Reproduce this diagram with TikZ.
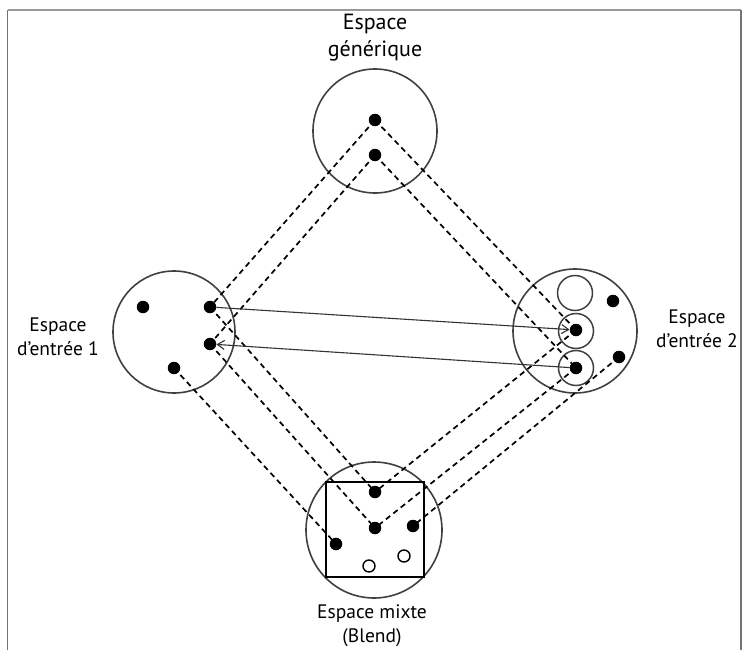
\documentclass[tikz,border=0pt]{standalone}
\usepackage{fontspec}
\setmainfont{PT Sans}
\usetikzlibrary{arrows.meta}
\begin{document}
\begin{tikzpicture}[x=1pt,y=-1pt,
  space/.style={draw=black!75,line width=1.6pt,circle,minimum size=#1,inner sep=0pt},
  dot/.style={fill=black,circle,minimum size=12.5pt,inner sep=0pt},
  hollow/.style={draw=black,line width=1.4pt,fill=white,circle,minimum size=12pt,inner sep=0pt},
  ring/.style={draw=black!75,line width=1.5pt,circle,minimum size=35pt,inner sep=0pt},
  proj/.style={dash pattern=on 5.5pt off 4pt,line width=1.7pt,black},
  link/.style={line width=1.1pt,black!80,-{Straight Barb[length=7pt,width=9pt,line width=1.1pt]}},
  lbl/.style={align=center,font=\fontsize{19.5}{24}\selectfont},
  frameline/.style={draw=black!55,line width=1.8pt}
]
\useasboundingbox (0,0) rectangle (743,650);
% frame
\coordinate (f1) at (7.5,650);
\coordinate (f2) at (7.5,10);
\coordinate (f3) at (741,10);
\coordinate (f4) at (741,650);
\draw[frameline] (f1) -- (f2);
\draw[draw=black!40,line width=1.2pt] (f2) -- (f3);
\draw[frameline] (f3) -- (f4);

% spaces
\node[space=124pt] (G) at (375,131) {};
\node[space=122pt] (I1) at (174,332) {};
\node[space=124pt] (I2) at (575,331) {};
\node[space=136pt] (B) at (374,530) {};
\draw[line width=1.6pt] (326,482) rectangle (424,577);

% rings in input 2
\node[ring] (r1) at (575,293) {};
\node[ring] (r2) at (576,331) {};
\node[ring] (r3) at (576,368) {};

% dashed projections
\coordinate (g1c) at (375,120);
\coordinate (g2c) at (375,155);
\coordinate (a1c) at (210,307);
\coordinate (a2c) at (210,344);
\coordinate (a4c) at (174,368);
\coordinate (b2c) at (576,330);
\coordinate (b3c) at (576,368);
\coordinate (b5c) at (619,357);
\coordinate (m1c) at (375,492);
\coordinate (m2c) at (375,528);
\coordinate (m3c) at (413,526);
\coordinate (m4c) at (336,544);

\draw[proj] (g1c) -- (a1c);
\draw[proj] (g2c) -- (a2c);
\draw[proj] (g1c) -- (b2c);
\draw[proj] (g2c) -- (b3c);
\draw[proj] (a1c) -- (m1c);
\draw[proj] (a2c) -- (m2c);
\draw[proj] (a4c) -- (m4c);
\draw[proj] (b2c) -- (m1c);
\draw[proj] (b3c) -- (m2c);
\draw[proj] (b5c) -- (m3c);

% dots
\node[dot] (g1) at (g1c) {};
\node[dot] (g2) at (g2c) {};
\node[dot] (a0) at (143,307) {};
\node[dot] (a1) at (a1c) {};
\node[dot] (a2) at (a2c) {};
\node[dot] (a4) at (a4c) {};
\node[dot] (b2) at (b2c) {};
\node[dot] (b3) at (b3c) {};
\node[dot] (b4) at (613,301) {};
\node[dot] (b5) at (b5c) {};
\node[dot] (m1) at (m1c) {};
\node[dot] (m2) at (m2c) {};
\node[dot] (m3) at (m3c) {};
\node[dot] (m4) at (m4c) {};
\node[hollow] (o1) at (369,566) {};
\node[hollow] (o2) at (404,556) {};

% solid links
\draw[link] (a1) -- (b2);
\draw[link] (b3) -- (a2);

% labels
\node[lbl,font=\fontsize{22}{27}\selectfont] (tG) at (375,38) {Espace\\générique};
\node[lbl] (tI1) at (58,337) {Espace\\d’entrée 1};
\node[lbl] (tI2) at (697,329) {Espace\\d’entrée 2};
\node[lbl] (tB) at (372,626) {Espace mixte\\(Blend)};
\end{tikzpicture}
\end{document}
